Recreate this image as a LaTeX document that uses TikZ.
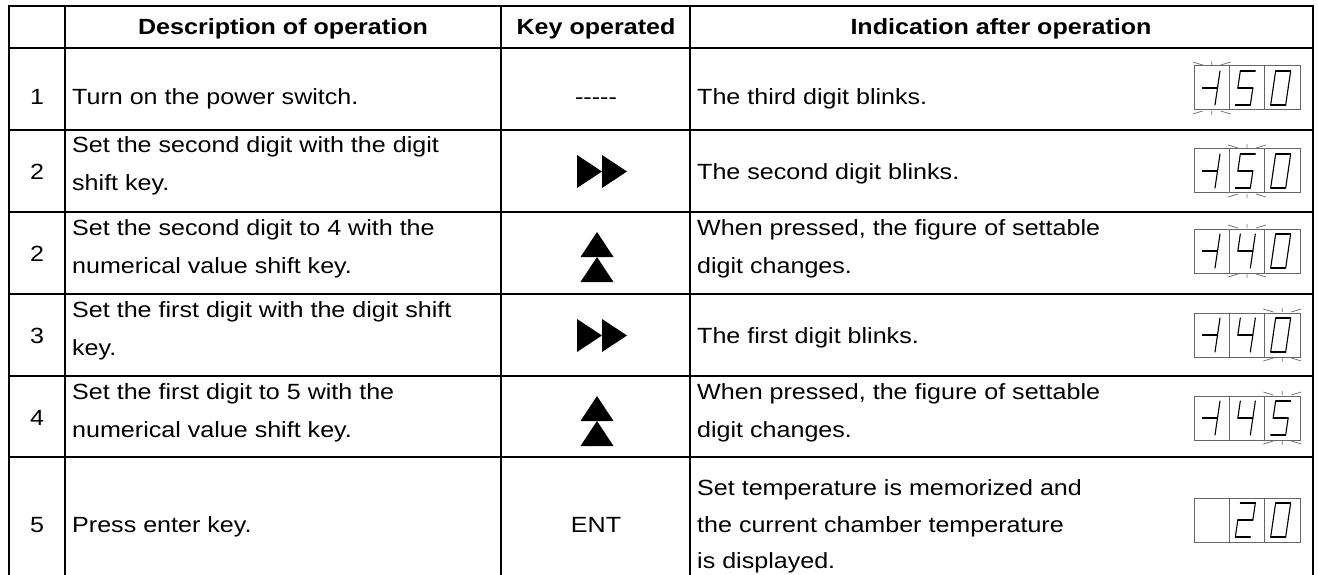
\documentclass[tikz,border=0pt]{standalone}
\usepackage{fontspec}
\setmainfont[FakeStretch=1.14]{Liberation Sans}

% seven-segment strokes in a 15 x 34 digit frame (y points up inside a digit)
\newcommand{\segA}{\draw[lcdseg] (0,34) -- (15,34);}
\newcommand{\segB}{\draw[lcdseg] (15,34) -- (15,17);}
\newcommand{\segC}{\draw[lcdseg] (15,17) -- (15,0);}
\newcommand{\segD}{\draw[lcdseg] (0,0) -- (15,0);}
\newcommand{\segE}{\draw[lcdseg] (0,0) -- (0,17);}
\newcommand{\segF}{\draw[lcdseg] (0,17) -- (0,34);}
\newcommand{\segG}{\draw[lcdseg] (0,17) -- (15,17);}

% one slanted digit in cell #1 of a panel, built from the segments in #2
\newcommand{\lcddigit}[2]{%
  \begin{scope}[shift={({(#1-1)*35.33+6},39)}, x={(1pt,0pt)}, y={(0.147pt,1pt)}]
    \foreach \s in {#2} {\csname seg\s\endcsname}
  \end{scope}}

% blink ticks above and below cell #1
\newcommand{\blinkmarks}[1]{%
  \begin{scope}[shift={({(#1-0.5)*35.33},0)}]
    \draw[lcdmark] (-19,-4) -- (-9,-1) (0,-5) -- (0,-1) (9,-1) -- (19,-4)
                   (-19,48) -- (-9,45) (0,45) -- (0,49) (9,45) -- (19,48);
  \end{scope}}

% three-cell display panel centred at height #1
\newcommand{\lcdpanel}[2]{%
  \begin{scope}[shift={(1194,#1-22)}]
    \draw[lcdframe] (0,0) rectangle (106,44) (35.33,0) -- (35.33,44) (70.67,0) -- (70.67,44);
    #2
  \end{scope}}

\begin{document}
\begin{tikzpicture}[x=1pt, y=-1pt,
  rule/.style={line width=2.2pt, line cap=rect},
  lcdframe/.style={draw=black!60, line width=1pt},
  lcdseg/.style={line width=1.1pt, line cap=round, line join=round},
  lcdmark/.style={draw=black!55, line width=0.8pt},
  cell/.style={inner sep=0pt, font=\fontsize{22}{26}\selectfont},
  lefttext/.style={cell, anchor=base west},
  midtext/.style={cell, anchor=base},
  head/.style={cell, anchor=base, font=\fontsize{22}{26}\selectfont\bfseries},
  fwdkey/.pic={\fill (-25,-16.5) -- (0,0) -- (-25,16.5) -- cycle;
                \fill (0,-16.5) -- (25,0) -- (0,16.5) -- cycle;},
  upkey/.pic={\fill (0,-25) -- (16.5,0) -- (-16.5,0) -- cycle;
              \fill (0,0) -- (16.5,25) -- (-16.5,25) -- cycle;}]
\useasboundingbox (0,0) rectangle (1318,575);

% table rules
\draw[rule] (9,6) -- (1313,6);
\foreach \y in {48,130,212,294,376,457} \draw[rule] (9,\y) -- (1313,\y);
\foreach \x in {9,65,501,690,1313} \draw[rule] (\x,6) -- (\x,580);

% header
\node[head] (h1) at (283,35) {Description of operation};
\node[head] (h2) at (596,35) {Key operated};
\node[head] (h3) at (1001,35) {Indication after operation};

% row 1
\node[midtext] (n1) at (37,105) {1};
\node[lefttext] (d1) at (72,105) {Turn on the power switch.};
\node[midtext] (k1) at (596,105) {-{}-{}-{}-{}-};
\node[lefttext] (i1) at (697,105) {The third digit blinks.};
\lcdpanel{88}{\lcddigit{1}{G,B,C}\lcddigit{2}{A,F,G,C,D}\lcddigit{3}{A,B,C,D,E,F}\blinkmarks{1}}

% row 2
\node[midtext] (n2) at (37,179) {2};
\node[lefttext] (d2a) at (72,153) {Set the second digit with the digit};
\node[lefttext] (d2b) at (72,191) {shift key.};
\pic at (602,171.5) {fwdkey};
\node[lefttext] (i2) at (697,179) {The second digit blinks.};
\lcdpanel{171}{\lcddigit{1}{G,B,C}\lcddigit{2}{A,F,G,C,D}\lcddigit{3}{A,B,C,D,E,F}\blinkmarks{2}}

% row 3
\node[midtext] (n3) at (37,261) {2};
\node[lefttext] (d3a) at (72,235) {Set the second digit to 4 with the};
\node[lefttext] (d3b) at (72,273) {numerical value shift key.};
\pic at (597,257) {upkey};
\node[lefttext] (i3a) at (697,235) {When pressed, the figure of settable};
\node[lefttext] (i3b) at (697,273) {digit changes.};
\lcdpanel{251}{\lcddigit{1}{G,B,C}\lcddigit{2}{F,G,B,C}\lcddigit{3}{A,B,C,D,E,F}\blinkmarks{2}}

% row 4
\node[midtext] (n4) at (37,343) {3};
\node[lefttext] (d4a) at (72,317) {Set the first digit with the digit shift};
\node[lefttext] (d4b) at (72,355) {key.};
\pic at (602,335.5) {fwdkey};
\node[lefttext] (i4) at (697,343) {The first digit blinks.};
\lcdpanel{335}{\lcddigit{1}{G,B,C}\lcddigit{2}{F,G,B,C}\lcddigit{3}{A,B,C,D,E,F}\blinkmarks{3}}

% row 5
\node[midtext] (n5) at (37,425) {4};
\node[lefttext] (d5a) at (72,399) {Set the first digit to 5 with the};
\node[lefttext] (d5b) at (72,437) {numerical value shift key.};
\pic at (597,421) {upkey};
\node[lefttext] (i5a) at (697,399) {When pressed, the figure of settable};
\node[lefttext] (i5b) at (697,437) {digit changes.};
\lcdpanel{418}{\lcddigit{1}{G,B,C}\lcddigit{2}{F,G,B,C}\lcddigit{3}{A,F,G,C,D}\blinkmarks{3}}

% row 6
\node[midtext] (n6) at (37,532) {5};
\node[lefttext] (d6) at (72,532) {Press enter key.};
\node[midtext] (k6) at (596,532) {ENT};
\node[lefttext] (i6a) at (697,495) {Set temperature is memorized and};
\node[lefttext] (i6b) at (697,532) {the current chamber temperature};
\node[lefttext] (i6c) at (697,568) {is displayed.};
\lcdpanel{520}{\lcddigit{2}{A,B,G,E,D}\lcddigit{3}{A,B,C,D,E,F}}
\end{tikzpicture}
\end{document}
